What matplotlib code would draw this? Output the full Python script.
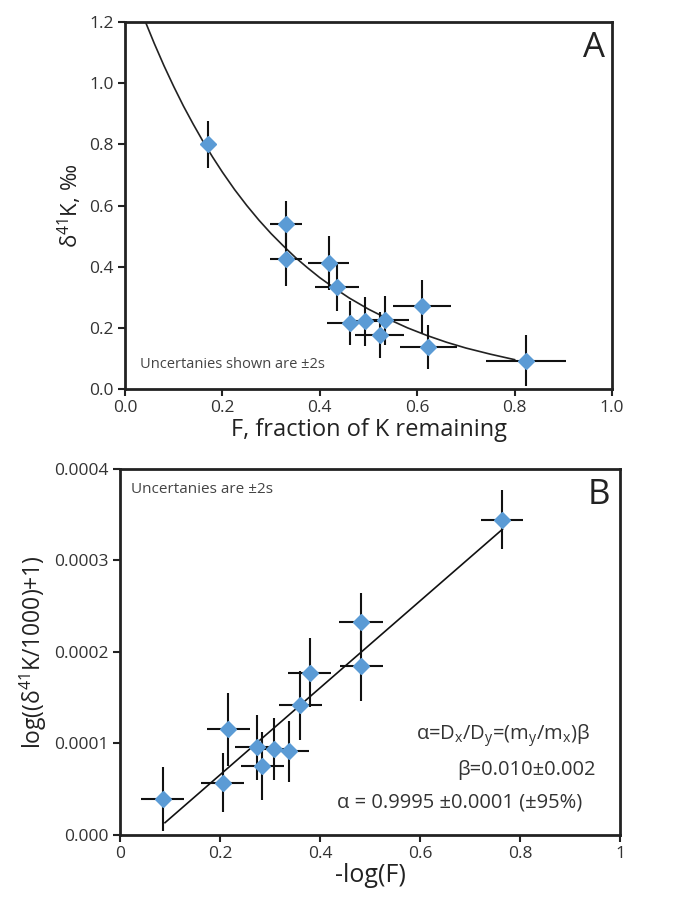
import numpy as np
import matplotlib.pyplot as plt
from matplotlib.ticker import FixedLocator, FixedFormatter

plt.rcParams['font.family'] = ['Open Sans', 'DejaVu Sans']
plt.rcParams['mathtext.fontset'] = 'custom'
plt.rcParams['mathtext.rm'] = 'Open Sans'
plt.rcParams['mathtext.it'] = 'Open Sans'

# ---------------- Panel A data: delta41K vs F ----------------
F_frac = [0.171, 0.331, 0.331, 0.418, 0.436, 0.461, 0.493, 0.523, 0.534, 0.610, 0.623, 0.824]
d41K = [0.800, 0.538, 0.425, 0.412, 0.334, 0.216, 0.221, 0.176, 0.225, 0.270, 0.136, 0.093]
d41K_err = [0.076, 0.076, 0.088, 0.087, 0.079, 0.073, 0.079, 0.076, 0.080, 0.088, 0.072, 0.082]
F_err = [0.0, 0.033, 0.033, 0.042, 0.045, 0.046, 0.035, 0.050, 0.049, 0.060, 0.059, 0.082]

# fitted curve
F_curve = [0.042, 0.06, 0.08, 0.10, 0.12, 0.14, 0.16, 0.18, 0.20, 0.225, 0.25, 0.275,
           0.30, 0.325, 0.35, 0.375, 0.40, 0.43, 0.46, 0.50, 0.54, 0.58, 0.62,
           0.66, 0.70, 0.75, 0.80]
d_curve = [1.200, 1.130, 1.057, 0.989, 0.925, 0.866, 0.810, 0.758, 0.709, 0.652, 0.600, 0.552,
           0.508, 0.468, 0.430, 0.396, 0.364, 0.330, 0.298, 0.261, 0.229, 0.200, 0.175,
           0.153, 0.134, 0.114, 0.096]

# ---------------- Panel B data: log(d/1000+1) vs -log(F) ----------------
mlogF = [0.086, 0.206, 0.217, 0.274, 0.285, 0.309, 0.338, 0.361, 0.380, 0.483, 0.483, 0.765]
logd = [0.388e-4, 0.573e-4, 1.153e-4, 0.961e-4, 0.751e-4, 0.936e-4, 0.914e-4,
        1.415e-4, 1.770e-4, 2.329e-4, 1.843e-4, 3.446e-4]
logd_err = [0.35e-4, 0.32e-4, 0.40e-4, 0.355e-4, 0.37e-4, 0.34e-4, 0.33e-4,
            0.38e-4, 0.377e-4, 0.317e-4, 0.38e-4, 0.326e-4]
mlogF_err = [0.043, 0.043, 0.043, 0.044, 0.043, 0.030, 0.040, 0.043, 0.043, 0.044, 0.043, 0.042]

line_x = [0.090, 0.765]
line_y = [0.134e-4, 3.341e-4]

# tick labels
xticks_A = [0.0, 0.2, 0.4, 0.6, 0.8, 1.0]
xlabels_A = ['0.0', '0.2', '0.4', '0.6', '0.8', '1.0']
yticks_A = [0.0, 0.2, 0.4, 0.6, 0.8, 1.0, 1.2]
ylabels_A = ['0.0', '0.2', '0.4', '0.6', '0.8', '1.0', '1.2']
xticks_B = [0.0, 0.2, 0.4, 0.6, 0.8, 1.0]
xlabels_B = ['0', '0.2', '0.4', '0.6', '0.8', '1']
yticks_B = [0.0, 1e-4, 2e-4, 3e-4, 4e-4]
ylabels_B = ['0.000', '0.0001', '0.0002', '0.0003', '0.0004']

blue = '#5b9bd5'

fig = plt.figure(figsize=(6.81, 8.98), dpi=100)
axA = fig.add_axes([0.1836, 0.5668, 0.7151, 0.4087])
axB = fig.add_axes([0.1762, 0.0702, 0.7342, 0.4076])


def style_axis(ax, xt, xl, yt, yl):
    for sp in ax.spines.values():
        sp.set_linewidth(2.0)
        sp.set_color('#222222')
    ax.xaxis.set_major_locator(FixedLocator(xt))
    ax.xaxis.set_major_formatter(FixedFormatter(xl))
    ax.yaxis.set_major_locator(FixedLocator(yt))
    ax.yaxis.set_major_formatter(FixedFormatter(yl))
    ax.tick_params(direction='out', length=5, width=1.5, labelsize=12.5,
                   colors='#222222', labelcolor='#333333', pad=3)


# Panel A
axA.plot(F_curve, d_curve, color='#222222', lw=1.2, zorder=2)
axA.errorbar(F_frac, d41K, xerr=F_err, yerr=d41K_err, fmt='none',
             ecolor='#111111', elinewidth=1.5, capsize=0, zorder=3)
axA.plot(F_frac, d41K, ls='', marker='D', ms=8.5, color=blue, mec=blue, zorder=4)
axA.set_xlim(0, 1)
axA.set_ylim(0, 1.2)
style_axis(axA, xticks_A, xlabels_A, yticks_A, ylabels_A)
axA.set_xlabel('F, fraction of K remaining', fontsize=17, color='#222222', labelpad=1)
axA.set_ylabel('δ$^{41}$K, ‰', fontsize=16, color='#222222', labelpad=4)
axA.text(0.985, 0.975, 'A', transform=axA.transAxes, ha='right', va='top',
         fontsize=25, color='#222222')
axA.text(0.03, 0.045, 'Uncertanies shown are ±2s', transform=axA.transAxes,
         ha='left', va='bottom', fontsize=10.5, color='#444444')

# Panel B
axB.plot(line_x, line_y, color='#111111', lw=1.2, zorder=2)
axB.errorbar(mlogF, logd, xerr=mlogF_err, yerr=logd_err, fmt='none',
             ecolor='#111111', elinewidth=1.5, capsize=0, zorder=3)
axB.plot(mlogF, logd, ls='', marker='D', ms=8.5, color=blue, mec=blue, zorder=4)
axB.set_xlim(0, 1)
axB.set_ylim(0, 4e-4)
style_axis(axB, xticks_B, xlabels_B, yticks_B, ylabels_B)
axB.set_xlabel('-log(F)', fontsize=18, color='#222222', labelpad=1)
axB.set_ylabel('log((δ$^{41}$K/1000)+1)', fontsize=16.5, color='#222222', labelpad=4)
axB.text(0.98, 0.975, 'B', transform=axB.transAxes, ha='right', va='top',
         fontsize=25, color='#222222')
axB.text(0.022, 0.945, 'Uncertanies are ±2s', transform=axB.transAxes,
         ha='left', va='center', fontsize=11, color='#444444')
axB.text(0.941, 0.272, 'α=D$_\\mathregular{x}$/D$_\\mathregular{y}$=(m$_\\mathregular{y}$/m$_\\mathregular{x}$)β',
         transform=axB.transAxes, ha='right', va='center', fontsize=14.5, color='#333333')
axB.text(0.952, 0.178, 'β=0.010±0.002', transform=axB.transAxes,
         ha='right', va='center', fontsize=14.5, color='#333333')
axB.text(0.925, 0.088, 'α = 0.9995 ±0.0001 (±95%)', transform=axB.transAxes,
         ha='right', va='center', fontsize=14.5, color='#333333')

fig.savefig('out.png', dpi=100, facecolor='white')
